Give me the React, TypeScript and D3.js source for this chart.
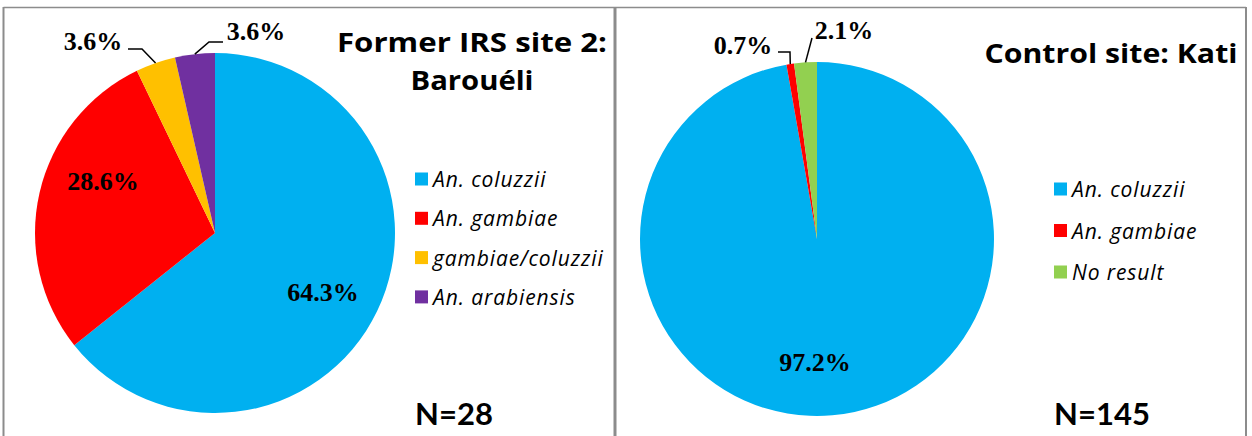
import React from "react";
import * as d3 from "d3";

// ---- data ----
const leftCategories = ["An. coluzzii", "An. gambiae", "gambiae/coluzzii", "An. arabiensis"];
const leftValues = [18, 8, 1, 1];
const leftTitle = ["Former IRS site 2:", "Barouéli"];
const leftN = "N=28";

const rightCategories = ["An. coluzzii", "An. gambiae", "No result"];
const rightValues = [141, 1, 3];
const rightTitle = ["Control site: Kati"];
const rightN = "N=145";

// ---- styles / layout ----
const colorMap: Record<string, string> = {
  "An. coluzzii": "#00B0F0",
  "An. gambiae": "#FF0000",
  "gambiae/coluzzii": "#FFC000",
  "An. arabiensis": "#7030A0",
  "No result": "#92D050",
};

type LabelLayout = { dx: number; dy: number; leader?: [number, number][] };

const leftLabelLayout: LabelLayout[] = [
  { dx: 108, dy: 59 },
  { dx: -112, dy: -52 },
  { dx: -122, dy: -192, leader: [[-73, -184], [-87, -184]] },
  { dx: 41, dy: -202, leader: [[-6, -191], [8, -191]] },
];
const rightLabelLayout: LabelLayout[] = [
  { dx: -2, dy: 123 },
  { dx: -74, dy: -194, leader: [[-27, -187], [-39, -187]] },
  { dx: 27, dy: -209, leader: [[-5, -201]] },
];
const leftTitleWidths = [270, 123];
const rightTitleWidths = [253];

const titleFont = "'Open Sans', 'Lato', sans-serif";
const nFont = "'Lato', 'Open Sans', sans-serif";
const legendFont = "'Open Sans', 'Lato', sans-serif";
const pctFont = "'Liberation Serif', 'Times New Roman', serif";

type PanelProps = {
  categories: string[];
  values: number[];
  layout: LabelLayout[];
  cx: number;
  cy: number;
  r: number;
  title: string[];
  titleWidths: number[];
  titleX: number;
  titleY: number;
  legendX: number;
  legendY: number;
  legendStep: number;
  nText: string;
  nX: number;
  nY: number;
};

function PiePanel(p: PanelProps) {
  const fmt = d3.format(".1%");
  const total = d3.sum(p.values);
  const pie = d3
    .pie<number>()
    .sort(null)
    .value((d) => d)
    .startAngle(0)
    .endAngle(2 * Math.PI);
  const arcs = pie(p.values);
  const arcGen = d3.arc<d3.PieArcDatum<number>>().innerRadius(0).outerRadius(p.r);
  const edge = (a: d3.PieArcDatum<number>): [number, number] => {
    const m = (a.startAngle + a.endAngle) / 2;
    return [p.r * Math.sin(m), -p.r * Math.cos(m)];
  };
  const line = d3.line();
  return (
    <g>
      <g transform={`translate(${p.cx},${p.cy})`}>
        {arcs.map((a, i) => (
          <path key={i} d={arcGen(a) || ""} fill={colorMap[p.categories[i]]} />
        ))}
        {arcs.map((a, i) => {
          const L = p.layout[i];
          return (
            <g key={"l" + i}>
              {L.leader && (
                <path
                  d={line([edge(a), ...L.leader]) || ""}
                  fill="none"
                  stroke="#000"
                  strokeWidth={1.5}
                />
              )}
              <text
                x={L.dx}
                y={L.dy}
                textAnchor="middle"
                dominantBaseline="central"
                fontFamily={pctFont}
                fontWeight="bold"
                fontSize={26}
                fill="#000"
              >
                {fmt(p.values[i] / total)}
              </text>
            </g>
          );
        })}
      </g>
      {p.title.map((t, i) => (
        <text
          key={"t" + i}
          x={p.titleX - p.titleWidths[i] / 2}
          y={p.titleY + i * 38}
          textLength={p.titleWidths[i]}
          lengthAdjust="spacingAndGlyphs"
          fontFamily={titleFont}
          fontWeight="bold"
          fontSize={27}
          fill="#000"
        >
          {t}
        </text>
      ))}
      {p.categories.map((c, i) => (
        <g key={"lg" + i} transform={`translate(${p.legendX},${p.legendY + i * p.legendStep})`}>
          <rect x={0} y={-6.5} width={13} height={13} fill={colorMap[c]} />
          <text
            x={18}
            y={0}
            dominantBaseline="central"
            fontFamily={legendFont}
            fontStyle="italic"
            fontSize={21}
            letterSpacing={0.9}
            fill="#000"
          >
            {c}
          </text>
        </g>
      ))}
      <text
        x={p.nX}
        y={p.nY}
        textAnchor="middle"
        fontFamily={nFont}
        fontWeight="bold"
        fontSize={31}
        fill="#000"
      >
        {p.nText}
      </text>
    </g>
  );
}

export default function App() {
  const W = 1252;
  const H = 436;
  return (
    <div style={{ position: "fixed", left: 0, top: 0 }}>
      <svg width={W} height={H} style={{ display: "block", background: "#fff" }}>
        <rect x={0} y={0} width={W} height={H} fill="#fff" />
        <PiePanel
          categories={leftCategories}
          values={leftValues}
          layout={leftLabelLayout}
          cx={215}
          cy={233}
          r={180}
          title={leftTitle}
          titleWidths={leftTitleWidths}
          titleX={472}
          titleY={52}
          legendX={415}
          legendY={179}
          legendStep={39.3}
          nText={leftN}
          nX={454}
          nY={425}
        />
        <PiePanel
          categories={rightCategories}
          values={rightValues}
          layout={rightLabelLayout}
          cx={817}
          cy={239}
          r={177}
          title={rightTitle}
          titleWidths={rightTitleWidths}
          titleX={1111}
          titleY={63}
          legendX={1054}
          legendY={189}
          legendStep={41.5}
          nText={rightN}
          nX={1102}
          nY={425}
        />
        {/* panel borders */}
        <g stroke="#8c8c8c" fill="none">
          <line x1={3.5} y1={7.5} x2={1246} y2={7.5} strokeWidth={1.5} />
          <line x1={3.5} y1={7} x2={3.5} y2={H} strokeWidth={2} />
          <line x1={615} y1={7} x2={615} y2={H} strokeWidth={3} />
          <line x1={1246} y1={7} x2={1246} y2={H} strokeWidth={2} />
        </g>
      </svg>
    </div>
  );
}
